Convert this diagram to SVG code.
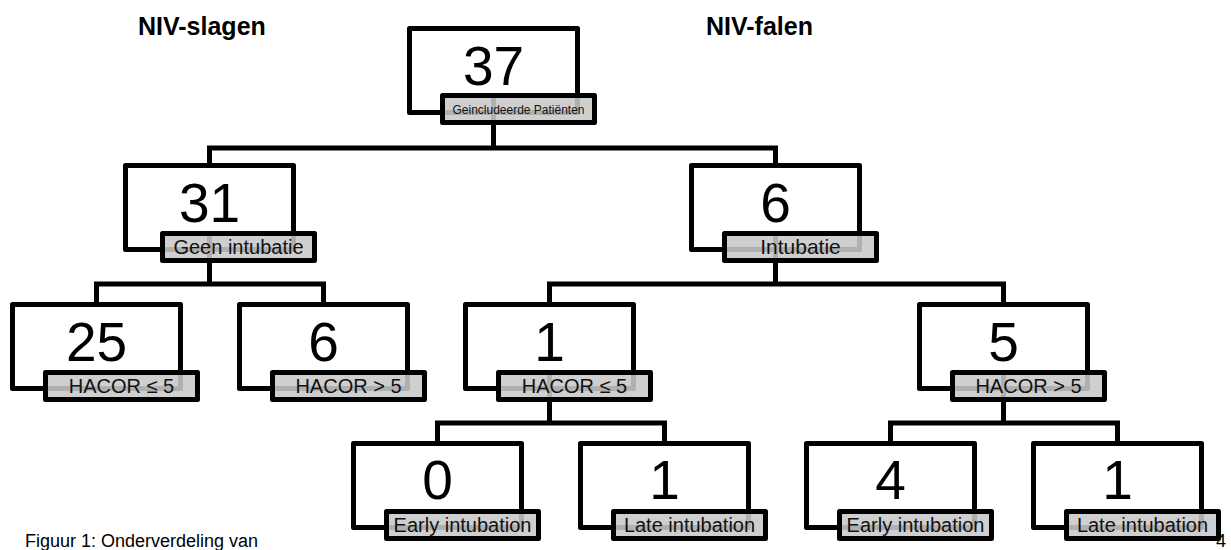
<svg xmlns="http://www.w3.org/2000/svg" width="1231" height="550" viewBox="0 0 1231 550">
<style>
.box{fill:none;stroke:#000;stroke-width:5;stroke-linejoin:round}
.lbl{fill:#c8c8c8;fill-opacity:0.88;stroke:#000;stroke-width:5;stroke-linejoin:round}
.conn{fill:none;stroke:#000;stroke-width:5;stroke-linejoin:miter}
.num{font-family:'Liberation Sans',Arial,sans-serif;font-size:55px;text-anchor:middle;fill:#000}
.lt{font-family:'Liberation Sans',Arial,sans-serif;font-size:20px;text-anchor:middle;fill:#111}
.hdr{font-family:'Liberation Sans',Arial,sans-serif;font-size:25px;font-weight:bold;fill:#000}
.cap{font-family:'Liberation Sans',Arial,sans-serif;font-size:18px;fill:#000}
</style>
<rect x="0" y="0" width="1231" height="550" fill="#fff"/>
<text class="hdr" x="138" y="35">NIV-slagen</text>
<text class="hdr" x="706" y="35">NIV-falen</text>
<g id="connectors">
<path class="conn" d="M493.5 98 V148 M209.5 165.5 V148 H775.5 V165.5"/>
<path class="conn" d="M209.5 236 V284 M96.5 304.5 V284 H323.5 V304.5"/>
<path class="conn" d="M775.5 236 V284 M549.5 304.5 V284 H1003.5 V304.5"/>
<path class="conn" d="M549.5 375 V423 M437.5 443.5 V423 H664.5 V443.5"/>
<path class="conn" d="M1003.5 375 V423 M890.5 443.5 V423 H1117.5 V443.5"/>
</g>
<g id="n37">
<rect class="box" x="409.5" y="28.5" width="168" height="84"/>
<text class="num" x="493.5" y="85">37</text>
<rect class="lbl" x="442.5" y="95.5" width="152" height="27"/>
<text class="lt" x="518.5" y="113.5" style="font-size:12px">Geincludeerde Patiënten</text>
</g>
<g id="n31">
<rect class="box" x="125.5" y="165.5" width="168" height="84"/>
<text class="num" x="209.5" y="222">31</text>
<rect class="lbl" x="162.5" y="233.5" width="152" height="27"/>
<text class="lt" x="238.5" y="253.5">Geen intubatie</text>
</g>
<g id="n6a">
<rect class="box" x="691.5" y="165.5" width="168" height="84"/>
<text class="num" x="775.5" y="222">6</text>
<rect class="lbl" x="724.5" y="233.5" width="152" height="27"/>
<text class="lt" x="800.5" y="253.5" style="font-size:21px">Intubatie</text>
</g>
<g id="n25">
<rect class="box" x="12.5" y="304.5" width="168" height="84"/>
<text class="num" x="96.5" y="361">25</text>
<rect class="lbl" x="45.5" y="372.5" width="152" height="27"/>
<text class="lt" x="121.5" y="392.5">HACOR ≤ 5</text>
</g>
<g id="n6b">
<rect class="box" x="239.5" y="304.5" width="168" height="84"/>
<text class="num" x="323.5" y="361">6</text>
<rect class="lbl" x="272.5" y="372.5" width="152" height="27"/>
<text class="lt" x="348.5" y="392.5">HACOR &gt; 5</text>
</g>
<g id="n1">
<rect class="box" x="465.5" y="304.5" width="168" height="84"/>
<text class="num" x="549.5" y="361">1</text>
<rect class="lbl" x="498.5" y="372.5" width="152" height="27"/>
<text class="lt" x="574.5" y="392.5">HACOR ≤ 5</text>
</g>
<g id="n5">
<rect class="box" x="919.5" y="304.5" width="168" height="84"/>
<text class="num" x="1003.5" y="361">5</text>
<rect class="lbl" x="952.5" y="372.5" width="152" height="27"/>
<text class="lt" x="1028.5" y="392.5">HACOR &gt; 5</text>
</g>
<g id="n0">
<rect class="box" x="353.5" y="443.5" width="168" height="84"/>
<text class="num" x="437.5" y="499">0</text>
<rect class="lbl" x="386.5" y="511.5" width="152" height="27"/>
<text class="lt" x="462.5" y="531.5">Early intubation</text>
</g>
<g id="n1a">
<rect class="box" x="580.5" y="443.5" width="168" height="84"/>
<text class="num" x="664.5" y="499">1</text>
<rect class="lbl" x="613.5" y="511.5" width="152" height="27"/>
<text class="lt" x="689.5" y="531.5">Late intubation</text>
</g>
<g id="n4">
<rect class="box" x="806.5" y="443.5" width="168" height="84"/>
<text class="num" x="890.5" y="499">4</text>
<rect class="lbl" x="839.5" y="511.5" width="152" height="27"/>
<text class="lt" x="915.5" y="531.5">Early intubation</text>
</g>
<g id="n1b">
<rect class="box" x="1033.5" y="443.5" width="168" height="84"/>
<text class="num" x="1117.5" y="499">1</text>
<rect class="lbl" x="1066.5" y="511.5" width="152" height="27"/>
<text class="lt" x="1142.5" y="531.5">Late intubation</text>
</g>
<text class="cap" x="25" y="547">Figuur 1: Onderverdeling van</text>
<text class="cap" x="1216" y="547">4</text>
</svg>
